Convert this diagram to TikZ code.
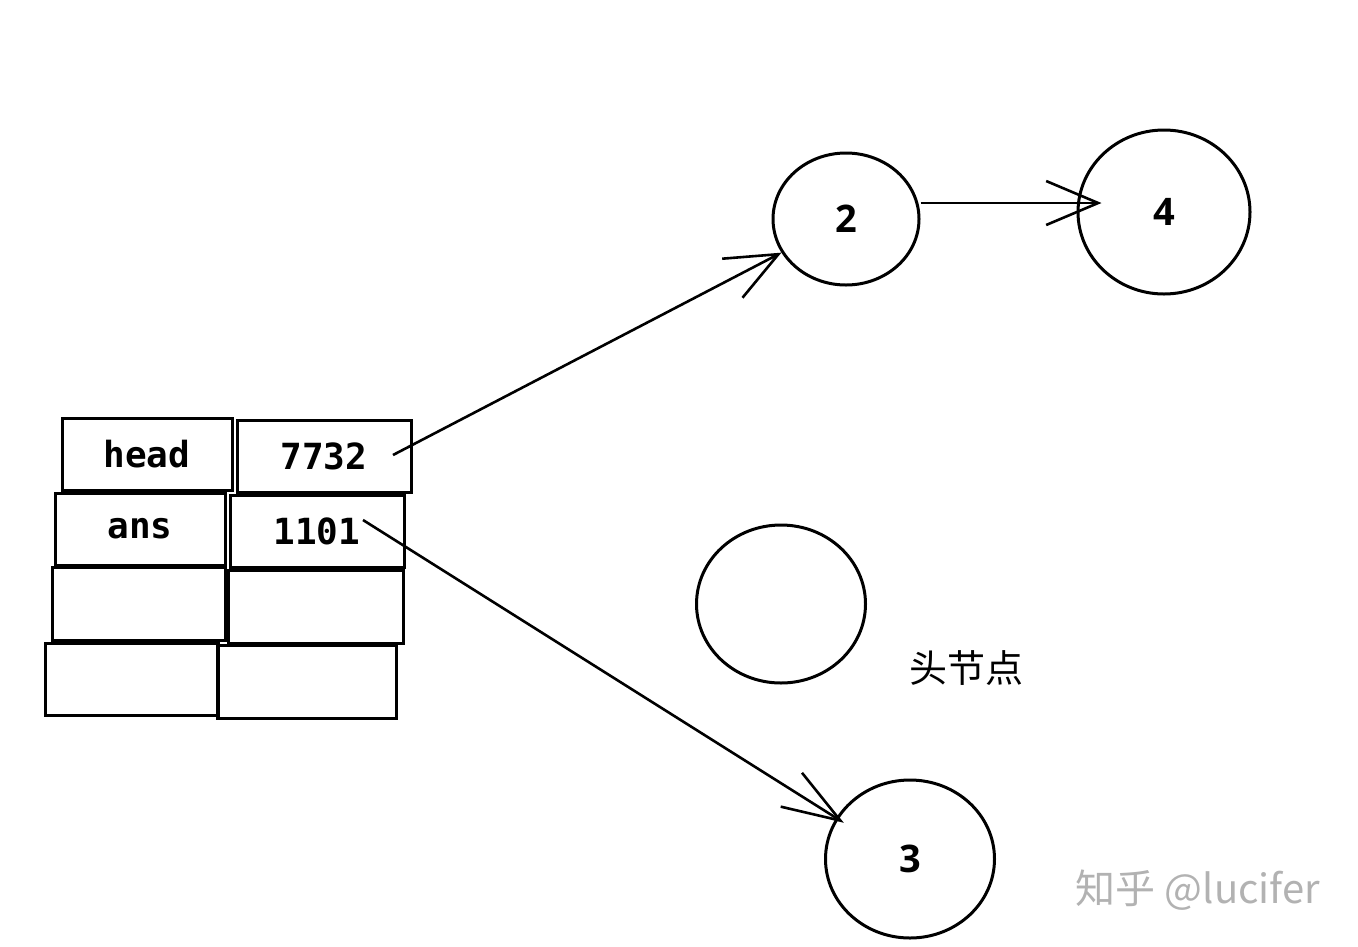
\documentclass[tikz,border=0pt]{standalone}
\usepackage{fontspec}
\setmainfont{DejaVu Sans}
\newfontfamily\monob{DejaVu Sans Mono}
\newfontfamily\numf{Open Sans}
\newfontfamily\cjk{Noto Sans CJK SC}
\usetikzlibrary{shapes.geometric,arrows.meta}
\begin{document}
\begin{tikzpicture}[x=1pt,y=-1pt,
  ink/.style={line width=3pt,draw=black},
  cell/.style={ink,rectangle,inner sep=0pt,font=\monob\bfseries\fontsize{36}{40}\selectfont},
  circ/.style={ink,ellipse,inner sep=0pt,font=\numf\bfseries\fontsize{38}{40}\selectfont},
  arr/.style={line width=2.6pt,-{Straight Barb[length=52pt,width=44pt,line width=2.6pt]}},
]
\useasboundingbox (0,0) rectangle (1358,946);
% table
\node[cell,minimum width=170pt,minimum height=72pt] (c11) at (147,454) {head};
\node[cell,minimum width=174pt,minimum height=72pt] (c12) at (324,456) {7732};
\node[cell,minimum width=170pt,minimum height=72pt] (c21) at (140,529) {ans};
\node[cell,minimum width=174pt,minimum height=72pt] (c22) at (317,531) {1101};
\node[cell,minimum width=173pt,minimum height=73pt] (c31) at (138.5,603.5) {};
\node[cell,minimum width=175pt,minimum height=73pt] (c32) at (315.5,606.5) {};
\node[cell,minimum width=173pt,minimum height=72pt] (c41) at (131.5,679) {};
\node[cell,minimum width=179pt,minimum height=73pt] (c42) at (306.5,681.5) {};
% circles
\node[circ,minimum width=146pt,minimum height=132pt] (n2) at (846,219) {2};
\node[circ,minimum width=172pt,minimum height=164pt] (n4) at (1164,212) {4};
\node[circ,minimum width=169pt,minimum height=158pt] (n0) at (781,604) {};
\node[circ,minimum width=169pt,minimum height=158pt] (n3) at (910,859) {3};
% labels
\node[font=\cjk\fontsize{38}{44}\selectfont] (lbl) at (966,668) {头节点};
\node[font=\cjk\fontsize{40}{44}\selectfont,text=black!30] (wm) at (1198,890) {知乎 @lucifer};
% arrows
\coordinate (s1) at (393,455);
\coordinate (s2) at (363,520);
\draw[arr] (s1) -- (n2);
\draw[arr] ([yshift=16pt]n2.east) -- ([xshift=25pt,yshift=9pt]n4.west);
\draw[arr,-{Straight Barb[length=58pt,width=40pt,line width=2.6pt]}] (s2) -- ([xshift=7pt,yshift=-6pt]n3.150);
\end{tikzpicture}
\end{document}
